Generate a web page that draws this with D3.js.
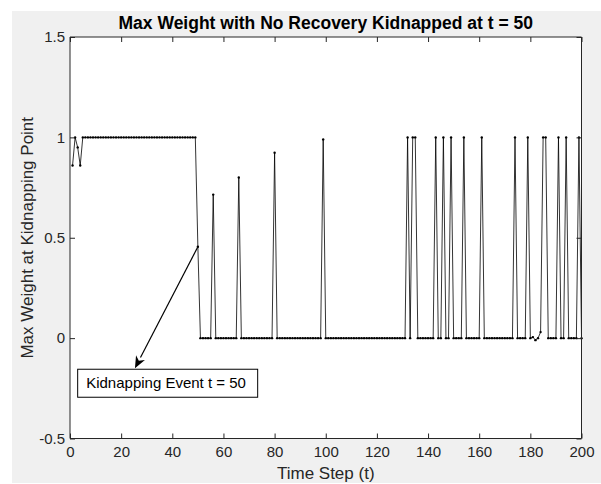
<!DOCTYPE html>
<html><head><meta charset="utf-8">
<script src="https://cdn.jsdelivr.net/npm/d3@7/dist/d3.min.js"></script>
<style>body{margin:0;background:#fff}svg{display:block}text{font-family:"Liberation Sans",Arial,sans-serif}</style>
</head><body><svg id="c" width="601" height="484"></svg>
<script>
const title = "Max Weight with No Recovery Kidnapped at t = 50";
const xLabel = "Time Step (t)";
const yLabel = "Max Weight at Kidnapping Point";
const xTicks = [0,20,40,60,80,100,120,140,160,180,200];
const yTicks = [-0.5,0,0.5,1,1.5];
const yTickLabels = ["-0.5","0","0.5","1","1.5"];
const steps = d3.range(1, 201);
const maxWeight = [
0.86,1,0.95,0.86,1,1,1,1,1,1,1,1,1,1,1,1,1,1,1,1,
1,1,1,1,1,1,1,1,1,1,1,1,1,1,1,1,1,1,1,1,
1,1,1,1,1,1,1,1,1,0.455,0,0,0,0,0,0.715,0,0,0,0,
0,0,0,0,0,0.80,0,0,0,0,0,0,0,0,0,0,0,0,0,0.924,
0,0,0,0,0,0,0,0,0,0,0,0,0,0,0,0,0,0,0.99,0,
0,0,0,0,0,0,0,0,0,0,0,0,0,0,0,0,0,0,0,0,
0,0,0,0,0,0,0,0,0,0,0,1,0,1,1,0,0,0,0,0,
0,0,1,0,0,1,0,0,1,0,0,0,0,1,0,0,0,0,0,0,
1,0,0,0,0,0,0,0,0,0,0,0,0,1,0,0,0,0,1,0,
0.005,-0.01,0,0.03,1,1,0,0,0,0,1,0,0,1,0,0,0,0,1,0
];
const annotText = "Kidnapping Event t = 50";
const annotTail = [50, 0.455];
const annotHead = [25.4, -0.15];

const svg = d3.select("#c");
const axisCol = "#262626";
svg.append("rect").attr("x",12).attr("y",11).attr("width",589).attr("height",472).attr("fill","#f0f0f0");

const L=70, R=581.5, T=37, B=438.5;
const x = d3.scaleLinear().domain([0,200]).range([L,R]);
const y = d3.scaleLinear().domain([-0.5,1.5]).range([B,T]);

svg.append("rect").attr("x",L).attr("y",T).attr("width",R-L).attr("height",B-T).attr("fill","#fff");

// data line
const pts = steps.map((t,i)=>[t, maxWeight[i]]);
svg.append("path").datum(pts)
  .attr("d", d3.line().x(d=>x(d[0])).y(d=>y(d[1])))
  .attr("fill","none").attr("stroke","#000").attr("stroke-width",0.8);
svg.append("g").selectAll("circle").data(pts).join("circle")
  .attr("cx",d=>x(d[0])).attr("cy",d=>y(d[1])).attr("r",1.2).attr("fill","#000");

// axes (inward ticks, box)
const tl = 5;
const gx = svg.append("g").attr("transform",`translate(0,${B})`)
  .call(d3.axisBottom(x).tickValues(xTicks).tickSize(-tl).tickPadding(8).tickFormat(d3.format("d")));
const gxt = svg.append("g").attr("transform",`translate(0,${T})`)
  .call(d3.axisTop(x).tickValues(xTicks).tickSize(-tl).tickFormat(""));
const gy = svg.append("g").attr("transform",`translate(${L},0)`)
  .call(d3.axisLeft(y).tickValues(yTicks).tickSize(-tl).tickPadding(5).tickFormat((d,i)=>yTickLabels[i]));
const gyr = svg.append("g").attr("transform",`translate(${R},0)`)
  .call(d3.axisRight(y).tickValues(yTicks).tickSize(-tl).tickFormat(""));
[gx,gxt,gy,gyr].forEach(g=>{
  g.select(".domain").attr("stroke",axisCol).attr("stroke-width",1);
  g.selectAll(".tick line").attr("stroke",axisCol);
  g.selectAll(".tick text").attr("fill",axisCol).style("font-size","15px").style("font-family","Liberation Sans, Arial, sans-serif");
});
[gx,gxt].forEach(g=>g.select(".domain").attr("d",`M${L},0H${R}`));
[gy,gyr].forEach(g=>g.select(".domain").attr("d",`M0,${T}V${B}`));

// labels
svg.append("text").attr("x",(L+R)/2).attr("y",29).attr("text-anchor","middle")
  .attr("font-weight","bold").attr("font-size",17.5).attr("fill","#000").text(title);
svg.append("text").attr("x",(L+R)/2).attr("y",479).attr("text-anchor","middle")
  .attr("font-size",17).attr("fill",axisCol).text(xLabel);
svg.append("text").attr("transform",`translate(33,${(T+B)/2}) rotate(-90)`).attr("text-anchor","middle")
  .attr("font-size",17).attr("fill",axisCol).text(yLabel);

// annotation arrow
const hx=x(annotHead[0]), hy=y(annotHead[1]), tx=x(annotTail[0]), ty=y(annotTail[1]);
const ang=Math.atan2(hy-ty,hx-tx);
const hl=12, hw=5;
const bx=hx-hl*Math.cos(ang), by=hy-hl*Math.sin(ang);
svg.append("line").attr("x1",tx).attr("y1",ty).attr("x2",bx).attr("y2",by).attr("stroke","#000").attr("stroke-width",1.2);
const px=-Math.sin(ang), py=Math.cos(ang);
const ix=hx-hl*0.7*Math.cos(ang), iy=hy-hl*0.7*Math.sin(ang);
svg.append("path").attr("d",`M${hx},${hy}L${bx+px*hw},${by+py*hw}L${ix},${iy}L${bx-px*hw},${by-py*hw}Z`).attr("fill","#000");

// text box
const boxX=x(3), boxY=y(-0.155);
svg.append("rect").attr("x",boxX).attr("y",boxY).attr("width",180).attr("height",28)
  .attr("fill","#fff").attr("stroke","#000").attr("stroke-width",1);
svg.append("text").attr("x",boxX+8.5).attr("y",boxY+18.5).attr("font-size",15).attr("fill","#000").text(annotText);
</script></body></html>
